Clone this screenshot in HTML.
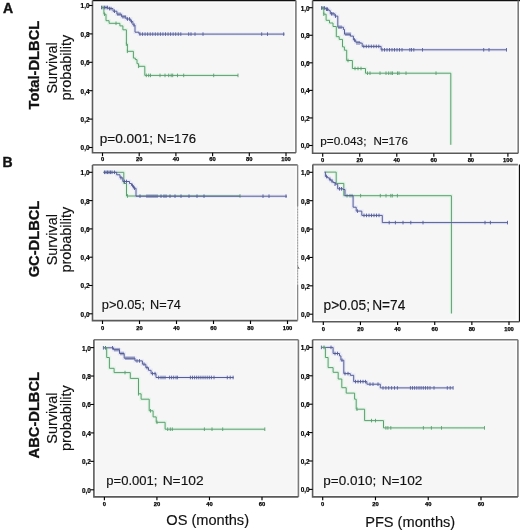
<!DOCTYPE html>
<html><head><meta charset="utf-8">
<style>
html,body{margin:0;padding:0;background:#fff;}
body{width:520px;height:532px;overflow:hidden;}
svg{display:block;filter:blur(0.4px);}
text{font-family:"Liberation Sans",sans-serif;fill:#111;}
.t{font-size:6.4px;font-weight:bold;text-anchor:end;fill:#000;stroke:#000;stroke-width:0.2px;}
.tx{font-size:5.8px;font-weight:bold;text-anchor:middle;fill:#000;stroke:#000;stroke-width:0.25px;}
.L{font-size:14px;font-weight:bold;stroke:#111;stroke-width:0.4px;}
.rb{font-size:14.7px;font-weight:bold;text-anchor:middle;stroke:#111;stroke-width:0.3px;}
.rr{font-size:14.4px;text-anchor:middle;stroke:#111;stroke-width:0.15px;}
.pv{font-size:13px;stroke:#111;stroke-width:0.15px;}
.ax{font-size:14.6px;stroke:#111;stroke-width:0.15px;}
</style></head>
<body>
<svg width="520" height="532" viewBox="0 0 520 532">
<rect width="520" height="532" fill="#fff"/>
<rect x="92.5" y="0.55" width="203.4" height="152.25" fill="#fdfdfd"/>
<rect x="94.7" y="2.75" width="199" height="147.85" fill="#f6f6f6"/>
<path d="M92.5 0.55H295.9" fill="none" stroke="#111" stroke-width="1.2"/>
<path d="M295.9 0.55V152.8" fill="none" stroke="#7a7a7a" stroke-width="1.6"/>
<path d="M92.5 0.55V152.8H295.9" fill="none" stroke="#5a5a5a" stroke-width="1.6"/>
<path d="M88.9 147.5H92.5" stroke="#000" stroke-width="1.1"/>
<text x="89.5" y="150.4" class="t">0,0</text>
<path d="M88.9 119.1H92.5" stroke="#000" stroke-width="1.1"/>
<text x="89.5" y="122" class="t">0,2</text>
<path d="M88.9 90.7H92.5" stroke="#000" stroke-width="1.1"/>
<text x="89.5" y="93.6" class="t">0,4</text>
<path d="M88.9 62.3H92.5" stroke="#000" stroke-width="1.1"/>
<text x="89.5" y="65.2" class="t">0,6</text>
<path d="M88.9 33.9H92.5" stroke="#000" stroke-width="1.1"/>
<text x="89.5" y="36.8" class="t">0,8</text>
<path d="M88.9 5.5H92.5" stroke="#000" stroke-width="1.1"/>
<text x="89.5" y="8.4" class="t">1,0</text>
<path d="M102.5 152.8V156.2" stroke="#000" stroke-width="1.15"/>
<text x="102.5" y="161.2" class="tx">0</text>
<path d="M139.2 152.8V156.2" stroke="#000" stroke-width="1.15"/>
<text x="139.2" y="161.2" class="tx">20</text>
<path d="M175.9 152.8V156.2" stroke="#000" stroke-width="1.15"/>
<text x="175.9" y="161.2" class="tx">40</text>
<path d="M212.6 152.8V156.2" stroke="#000" stroke-width="1.15"/>
<text x="212.6" y="161.2" class="tx">60</text>
<path d="M249.3 152.8V156.2" stroke="#000" stroke-width="1.15"/>
<text x="249.3" y="161.2" class="tx">80</text>
<path d="M286 152.8V156.2" stroke="#000" stroke-width="1.15"/>
<text x="286" y="161.2" class="tx">100</text>
<rect x="312.6" y="0.55" width="205.6" height="152.75" fill="#fdfdfd"/>
<rect x="314.8" y="2.75" width="201.2" height="148.35" fill="#f6f6f6"/>
<path d="M312.6 0.55H520" fill="none" stroke="#111" stroke-width="1.2"/>
<path d="M518.2 0.55V153.3" fill="none" stroke="#7a7a7a" stroke-width="1.6"/>
<path d="M312.6 0.55V153.3H518.2" fill="none" stroke="#5a5a5a" stroke-width="1.6"/>
<path d="M309 145.5H312.6" stroke="#000" stroke-width="1.1"/>
<text x="309.6" y="148.4" class="t">0,0</text>
<path d="M309 117.94H312.6" stroke="#000" stroke-width="1.1"/>
<text x="309.6" y="120.84" class="t">0,2</text>
<path d="M309 90.38H312.6" stroke="#000" stroke-width="1.1"/>
<text x="309.6" y="93.28" class="t">0,4</text>
<path d="M309 62.82H312.6" stroke="#000" stroke-width="1.1"/>
<text x="309.6" y="65.72" class="t">0,6</text>
<path d="M309 35.26H312.6" stroke="#000" stroke-width="1.1"/>
<text x="309.6" y="38.16" class="t">0,8</text>
<path d="M309 7.7H312.6" stroke="#000" stroke-width="1.1"/>
<text x="309.6" y="10.6" class="t">1,0</text>
<path d="M322.7 153.3V156.7" stroke="#000" stroke-width="1.15"/>
<text x="322.7" y="161.5" class="tx">0</text>
<path d="M359.74 153.3V156.7" stroke="#000" stroke-width="1.15"/>
<text x="359.74" y="161.5" class="tx">20</text>
<path d="M396.78 153.3V156.7" stroke="#000" stroke-width="1.15"/>
<text x="396.78" y="161.5" class="tx">40</text>
<path d="M433.82 153.3V156.7" stroke="#000" stroke-width="1.15"/>
<text x="433.82" y="161.5" class="tx">60</text>
<path d="M470.86 153.3V156.7" stroke="#000" stroke-width="1.15"/>
<text x="470.86" y="161.5" class="tx">80</text>
<path d="M507.9 153.3V156.7" stroke="#000" stroke-width="1.15"/>
<text x="507.9" y="161.5" class="tx">100</text>
<rect x="92.5" y="164.9" width="205.1" height="155.7" fill="#fdfdfd"/>
<rect x="94.7" y="167.1" width="200.7" height="151.3" fill="#f6f6f6"/>
<path d="M92.5 164.9H297.6" fill="none" stroke="#7a7a7a" stroke-width="1.6"/>
<path d="M297.6 164.9V320.6" fill="none" stroke="#c4c4c4" stroke-width="1.2"/>
<path d="M92.5 164.9V320.6H297.6" fill="none" stroke="#5a5a5a" stroke-width="1.6"/>
<path d="M88.9 313.8H92.5" stroke="#000" stroke-width="1.1"/>
<text x="89.5" y="316.7" class="t">0,0</text>
<path d="M88.9 285.5H92.5" stroke="#000" stroke-width="1.1"/>
<text x="89.5" y="288.4" class="t">0,2</text>
<path d="M88.9 257.2H92.5" stroke="#000" stroke-width="1.1"/>
<text x="89.5" y="260.1" class="t">0,4</text>
<path d="M88.9 228.9H92.5" stroke="#000" stroke-width="1.1"/>
<text x="89.5" y="231.8" class="t">0,6</text>
<path d="M88.9 200.6H92.5" stroke="#000" stroke-width="1.1"/>
<text x="89.5" y="203.5" class="t">0,8</text>
<path d="M88.9 172.3H92.5" stroke="#000" stroke-width="1.1"/>
<text x="89.5" y="175.2" class="t">1,0</text>
<path d="M102.5 320.6V324" stroke="#000" stroke-width="1.15"/>
<text x="102.5" y="329.8" class="tx">0</text>
<path d="M139.5 320.6V324" stroke="#000" stroke-width="1.15"/>
<text x="139.5" y="329.8" class="tx">20</text>
<path d="M176.5 320.6V324" stroke="#000" stroke-width="1.15"/>
<text x="176.5" y="329.8" class="tx">40</text>
<path d="M213.5 320.6V324" stroke="#000" stroke-width="1.15"/>
<text x="213.5" y="329.8" class="tx">60</text>
<path d="M250.5 320.6V324" stroke="#000" stroke-width="1.15"/>
<text x="250.5" y="329.8" class="tx">80</text>
<path d="M287.5 320.6V324" stroke="#000" stroke-width="1.15"/>
<text x="287.5" y="329.8" class="tx">100</text>
<rect x="312.8" y="164.6" width="205.1" height="157.1" fill="#fdfdfd"/>
<rect x="315" y="166.8" width="200.7" height="152.7" fill="#f6f6f6"/>
<path d="M312.8 164.6H517.9" fill="none" stroke="#7a7a7a" stroke-width="1.6"/>
<path d="M519.45 164.6V321.7" fill="none" stroke="#111" stroke-width="1.2"/>
<path d="M312.8 164.6V321.7H519.45" fill="none" stroke="#5a5a5a" stroke-width="1.6"/>
<path d="M309.2 314.2H312.8" stroke="#000" stroke-width="1.1"/>
<text x="309.8" y="317.1" class="t">0,0</text>
<path d="M309.2 285.82H312.8" stroke="#000" stroke-width="1.1"/>
<text x="309.8" y="288.72" class="t">0,2</text>
<path d="M309.2 257.44H312.8" stroke="#000" stroke-width="1.1"/>
<text x="309.8" y="260.34" class="t">0,4</text>
<path d="M309.2 229.06H312.8" stroke="#000" stroke-width="1.1"/>
<text x="309.8" y="231.96" class="t">0,6</text>
<path d="M309.2 200.68H312.8" stroke="#000" stroke-width="1.1"/>
<text x="309.8" y="203.58" class="t">0,8</text>
<path d="M309.2 172.3H312.8" stroke="#000" stroke-width="1.1"/>
<text x="309.8" y="175.2" class="t">1,0</text>
<path d="M323.3 321.7V325.1" stroke="#000" stroke-width="1.15"/>
<text x="323.3" y="331.1" class="tx">0</text>
<path d="M360.44 321.7V325.1" stroke="#000" stroke-width="1.15"/>
<text x="360.44" y="331.1" class="tx">20</text>
<path d="M397.58 321.7V325.1" stroke="#000" stroke-width="1.15"/>
<text x="397.58" y="331.1" class="tx">40</text>
<path d="M434.72 321.7V325.1" stroke="#000" stroke-width="1.15"/>
<text x="434.72" y="331.1" class="tx">60</text>
<path d="M471.86 321.7V325.1" stroke="#000" stroke-width="1.15"/>
<text x="471.86" y="331.1" class="tx">80</text>
<path d="M509 321.7V325.1" stroke="#000" stroke-width="1.15"/>
<text x="509" y="331.1" class="tx">100</text>
<rect x="93.9" y="339.8" width="204.5" height="157.1" fill="#fdfdfd"/>
<rect x="96.1" y="342" width="200.1" height="152.7" fill="#f6f6f6"/>
<path d="M93.9 339.8H298.4" fill="none" stroke="#7a7a7a" stroke-width="1.6"/>
<path d="M298.4 339.8V496.9" fill="none" stroke="#7a7a7a" stroke-width="1.6"/>
<path d="M93.9 339.8V496.9H298.4" fill="none" stroke="#5a5a5a" stroke-width="1.6"/>
<path d="M90.3 489.8H93.9" stroke="#000" stroke-width="1.1"/>
<text x="90.9" y="492.7" class="t">0,0</text>
<path d="M90.3 461.36H93.9" stroke="#000" stroke-width="1.1"/>
<text x="90.9" y="464.26" class="t">0,2</text>
<path d="M90.3 432.92H93.9" stroke="#000" stroke-width="1.1"/>
<text x="90.9" y="435.82" class="t">0,4</text>
<path d="M90.3 404.48H93.9" stroke="#000" stroke-width="1.1"/>
<text x="90.9" y="407.38" class="t">0,6</text>
<path d="M90.3 376.04H93.9" stroke="#000" stroke-width="1.1"/>
<text x="90.9" y="378.94" class="t">0,8</text>
<path d="M90.3 347.6H93.9" stroke="#000" stroke-width="1.1"/>
<text x="90.9" y="350.5" class="t">1,0</text>
<path d="M104.4 496.9V500.3" stroke="#000" stroke-width="1.15"/>
<text x="104.4" y="506.3" class="tx">0</text>
<path d="M156.93 496.9V500.3" stroke="#000" stroke-width="1.15"/>
<text x="156.93" y="506.3" class="tx">20</text>
<path d="M209.47 496.9V500.3" stroke="#000" stroke-width="1.15"/>
<text x="209.47" y="506.3" class="tx">40</text>
<path d="M262 496.9V500.3" stroke="#000" stroke-width="1.15"/>
<text x="262" y="506.3" class="tx">60</text>
<rect x="312.6" y="339.7" width="205.3" height="157.2" fill="#fdfdfd"/>
<rect x="314.8" y="341.9" width="200.9" height="152.8" fill="#f6f6f6"/>
<path d="M312.6 339.7H517.9" fill="none" stroke="#7a7a7a" stroke-width="1.6"/>
<path d="M517.9 339.7V496.9" fill="none" stroke="#7a7a7a" stroke-width="1.6"/>
<path d="M312.6 339.7V496.9H517.9" fill="none" stroke="#5a5a5a" stroke-width="1.6"/>
<path d="M309 489.4H312.6" stroke="#000" stroke-width="1.1"/>
<text x="309.6" y="492.3" class="t">0,0</text>
<path d="M309 461H312.6" stroke="#000" stroke-width="1.1"/>
<text x="309.6" y="463.9" class="t">0,2</text>
<path d="M309 432.6H312.6" stroke="#000" stroke-width="1.1"/>
<text x="309.6" y="435.5" class="t">0,4</text>
<path d="M309 404.2H312.6" stroke="#000" stroke-width="1.1"/>
<text x="309.6" y="407.1" class="t">0,6</text>
<path d="M309 375.8H312.6" stroke="#000" stroke-width="1.1"/>
<text x="309.6" y="378.7" class="t">0,8</text>
<path d="M309 347.4H312.6" stroke="#000" stroke-width="1.1"/>
<text x="309.6" y="350.3" class="t">1,0</text>
<path d="M322.7 496.9V500.3" stroke="#000" stroke-width="1.15"/>
<text x="322.7" y="506" class="tx">0</text>
<path d="M375.47 496.9V500.3" stroke="#000" stroke-width="1.15"/>
<text x="375.47" y="506" class="tx">20</text>
<path d="M428.23 496.9V500.3" stroke="#000" stroke-width="1.15"/>
<text x="428.23" y="506" class="tx">40</text>
<path d="M481 496.9V500.3" stroke="#000" stroke-width="1.15"/>
<text x="481" y="506" class="tx">60</text>
<path d="M297.6 164.9V206" stroke="#8a8a8a" stroke-width="1.3"/>
<path d="M297.6 206V285" stroke="#9a9a9a" stroke-width="1" stroke-dasharray="1.2 1.6"/>
<path d="M297.6 285V320.6" stroke="#8a8a8a" stroke-width="1.2"/>
<path d="M297.9 266.5l1.2 2.5" stroke="#555" stroke-width="0.9"/>
<path d="M101.5 7.5H108.2V8.6H113V11.2H116.9V14.2H121.6V16.8H126V19H130.7V21.6H132.9V25H135V32.2H139V34.1H284.5" fill="none" stroke="#e6e8f5" stroke-width="3.4"/>
<path d="M101.5 7.5H103.9V14.2H106V20.7H109.1V23.3H119.9V25.9H122.9V29.8H126.4V44.1H127.4V51.3H133.4V58.1H135.3V59.6H137V63.7H138.6V66.3H144.8V75.4H238" fill="none" stroke="#e2f5e7" stroke-width="3.4"/>
<path d="M321.5 8H325.7V9.2H328.8V10.7H330.3V13.8H334.9V16.1H337.8V27.2H343.4V29.5H344.5V34.2H350.3V36.1H353.4V39.9H355.7V42.2H360V43.1H362.2V46.4H381.1V49.8H506.5" fill="none" stroke="#e6e8f5" stroke-width="3.4"/>
<path d="M321.5 8H323.8V14.2H326.1V20.3H329.5V23H333V26.5H336.3V36.7H339.2V39.4H342.5V46.9H344.4V50.2H346.7V60.5H352.4V68.5H365.5V73.2H450.8V144.8" fill="none" stroke="#e2f5e7" stroke-width="3.4"/>
<path d="M103.5 172.3H123.8V183.5H126.5V196H240" fill="none" stroke="#e2f5e7" stroke-width="3.4"/>
<path d="M103.5 172.3H116.7V174.8H120V177.8H122.8V181.5H129.5V183.5H131.5V185.5H133.5V188.2H136V196.2H287" fill="none" stroke="#e6e8f5" stroke-width="3.4"/>
<path d="M324.6 172.1H336.2V183.4H343.8V195.7H451.4V313.5" fill="none" stroke="#e2f5e7" stroke-width="3.4"/>
<path d="M324.6 172.1H325.4V176.5H327.5V177.8H329.2V179.4H331V181H333V182.6H335.4V184.2H337.7V188.8H343V189.5H345V195.7H353.1V207.2H356.2V211.1H361.8V215.4H382.3V222.6H507.5" fill="none" stroke="#e6e8f5" stroke-width="3.4"/>
<path d="M103.4 347.8H113.5V349.7H119.5V353.5H124.2V358.2H135V360.9H142.4V364.2H145.8V367.6H148.5V370.3H151.1V373.6H156V377.5H233.6" fill="none" stroke="#e6e8f5" stroke-width="3.4"/>
<path d="M103.4 347.8H106.7V357.5H109.4V368.3H114.1V372.6H130.3V378.4H138.5V393.8H141.1V399.2H149.2V410.8H153.1V416.9H156.2V422.3H165.1V429.2H264.8" fill="none" stroke="#e2f5e7" stroke-width="3.4"/>
<path d="M321.4 347.4H333.1V353.5H339.5V355.9H340.9V360.2H343.8V373.6H350.3V375.3H353.7V381.6H366.9V384.2H380.3V387.9H453.1" fill="none" stroke="#e6e8f5" stroke-width="3.4"/>
<path d="M321.4 347.4H325.4V357.5H328.1V367.6H333.1V372.3H338.2V379H341.8V387.7H346.2V393.1H354.6V399.2H356.2V409.2H364.6V420.6H383.5V427.9H484.5" fill="none" stroke="#e2f5e7" stroke-width="3.4"/>
<path d="M101.5 7.5H108.2V8.6H113V11.2H116.9V14.2H121.6V16.8H126V19H130.7V21.6H132.9V25H135V32.2H139V34.1H284.5" fill="none" stroke="#565d98" stroke-width="1.0"/>
<path d="M101.5 5.7v3.6M103 5.7v3.6M104.5 5.7v3.6M106 5.7v3.6M107.5 5.7v3.6M109.5 6.8v3.6M111 6.8v3.6M114.5 9.4v3.6M118 12.4v3.6M120 12.4v3.6M123 15v3.6M125 15v3.6M127.5 17.2v3.6M129.5 17.2v3.6M131.5 19.8v3.6M134 23.2v3.6M140 32.3v3.6M142.55 32.3v3.6M145.1 32.3v3.6M147.65 32.3v3.6M150.2 32.3v3.6M152.75 32.3v3.6M155.3 32.3v3.6M157.85 32.3v3.6M160.4 32.3v3.6M162.95 32.3v3.6M165.5 32.3v3.6M168.05 32.3v3.6M170.6 32.3v3.6M173.15 32.3v3.6M175.7 32.3v3.6M178.25 32.3v3.6M180.8 32.3v3.6M188.7 32.3v3.6M191 32.3v3.6M195 32.3v3.6M203 32.3v3.6M261.7 32.3v3.6M267.5 32.3v3.6M283.7 32.3v3.6" fill="none" stroke="#565d98" stroke-width="0.9"/>
<path d="M101.5 7.5H103.9V14.2H106V20.7H109.1V23.3H119.9V25.9H122.9V29.8H126.4V44.1H127.4V51.3H133.4V58.1H135.3V59.6H137V63.7H138.6V66.3H144.8V75.4H238" fill="none" stroke="#5c9e70" stroke-width="1.0"/>
<path d="M104.5 12.4v3.6M116 21.5v3.6M126.4 42.3v3.6M127.4 49.5v3.6M138.6 64.5v3.6M146.3 73.6v3.6M148.7 73.6v3.6M150.5 73.6v3.6M160 73.6v3.6M165 73.6v3.6M168.7 73.6v3.6M171.2 73.6v3.6M172.7 73.6v3.6M177.5 73.6v3.6M183.7 73.6v3.6M213.7 73.6v3.6M238 73.6v3.6" fill="none" stroke="#5c9e70" stroke-width="0.9"/>
<path d="M321.5 8H325.7V9.2H328.8V10.7H330.3V13.8H334.9V16.1H337.8V27.2H343.4V29.5H344.5V34.2H350.3V36.1H353.4V39.9H355.7V42.2H360V43.1H362.2V46.4H381.1V49.8H506.5" fill="none" stroke="#565d98" stroke-width="1.0"/>
<path d="M321.5 6.2v3.6M323 6.2v3.6M324.5 6.2v3.6M326.5 7.4v3.6M327.5 7.4v3.6M331.5 12v3.6M333 12v3.6M335.5 14.3v3.6M339 25.4v3.6M341 25.4v3.6M346 32.4v3.6M348 32.4v3.6M350 32.4v3.6M354.5 38.2v3.6M357 41.3v3.6M359 41.3v3.6M363.8 44.6v3.6M366.3 44.6v3.6M368.8 44.6v3.6M371.3 44.6v3.6M373.8 44.6v3.6M376.3 44.6v3.6M378.8 44.6v3.6M382 48v3.6M384.5 48v3.6M387 48v3.6M389.5 48v3.6M392 48v3.6M394.5 48v3.6M397 48v3.6M399.5 48v3.6M402 48v3.6M409.8 48v3.6M411.5 48v3.6M413.8 48v3.6M422.5 48v3.6M483.7 48v3.6M489 48v3.6M506.5 48v3.6" fill="none" stroke="#565d98" stroke-width="0.9"/>
<path d="M321.5 8H323.8V14.2H326.1V20.3H329.5V23H333V26.5H336.3V36.7H339.2V39.4H342.5V46.9H344.4V50.2H346.7V60.5H352.4V68.5H365.5V73.2H450.8V144.8" fill="none" stroke="#5c9e70" stroke-width="1.0"/>
<path d="M323.8 12.4v3.6M348 58.7v3.6M355 66.7v3.6M358 66.7v3.6M361 66.7v3.6M367.5 71.4v3.6M370 71.4v3.6M380 71.4v3.6M386 71.4v3.6M388.7 71.4v3.6M391 71.4v3.6M392.5 71.4v3.6M397.5 71.4v3.6M399 71.4v3.6M406 71.4v3.6M436 71.4v3.6" fill="none" stroke="#5c9e70" stroke-width="0.9"/>
<path d="M103.5 172.3H123.8V183.5H126.5V196H240" fill="none" stroke="#5c9e70" stroke-width="1.0"/>
<path d="M127.5 194.2v3.6M240 194.2v3.6" fill="none" stroke="#5c9e70" stroke-width="0.9"/>
<path d="M103.5 172.3H116.7V174.8H120V177.8H122.8V181.5H129.5V183.5H131.5V185.5H133.5V188.2H136V196.2H287" fill="none" stroke="#565d98" stroke-width="1.0"/>
<path d="M104.5 170.5v3.6M106 170.5v3.6M107.5 170.5v3.6M109 170.5v3.6M110.5 170.5v3.6M112 170.5v3.6M114.5 170.5v3.6M121 176v3.6M124.5 179.7v3.6M126.5 179.7v3.6M132.5 183.7v3.6M134.5 186.4v3.6M140 194.4v3.6M147 194.4v3.6M149 194.4v3.6M151 194.4v3.6M153 194.4v3.6M155 194.4v3.6M157 194.4v3.6M161 194.4v3.6M164 194.4v3.6M166 194.4v3.6M170 194.4v3.6M175 194.4v3.6M181 194.4v3.6M189 194.4v3.6M197 194.4v3.6M204 194.4v3.6M263 194.4v3.6M269 194.4v3.6M286 194.4v3.6" fill="none" stroke="#565d98" stroke-width="0.9"/>
<path d="M324.6 172.1H336.2V183.4H343.8V195.7H451.4V313.5" fill="none" stroke="#5c9e70" stroke-width="1.0"/>
<path d="M347 193.9v3.6M350 193.9v3.6M352 193.9v3.6M360.6 193.9v3.6M380.3 193.9v3.6M386 193.9v3.6M390.8 193.9v3.6M392.3 193.9v3.6M397.4 193.9v3.6" fill="none" stroke="#5c9e70" stroke-width="0.9"/>
<path d="M324.6 172.1H325.4V176.5H327.5V177.8H329.2V179.4H331V181H333V182.6H335.4V184.2H337.7V188.8H343V189.5H345V195.7H353.1V207.2H356.2V211.1H361.8V215.4H382.3V222.6H507.5" fill="none" stroke="#565d98" stroke-width="1.0"/>
<path d="M326.5 174.7v3.6M330 177.6v3.6M332 179.2v3.6M335 182.4v3.6M339.5 187v3.6M341.5 187v3.6M357.5 209.3v3.6M364 213.6v3.6M366.5 213.6v3.6M369 213.6v3.6M371.5 213.6v3.6M374 213.6v3.6M376.5 213.6v3.6M379 213.6v3.6M389.2 220.8v3.6M395.4 220.8v3.6M403 220.8v3.6M410.8 220.8v3.6M423 220.8v3.6M485 220.8v3.6M490.4 220.8v3.6M507.5 220.8v3.6" fill="none" stroke="#565d98" stroke-width="0.9"/>
<path d="M103.4 347.8H113.5V349.7H119.5V353.5H124.2V358.2H135V360.9H142.4V364.2H145.8V367.6H148.5V370.3H151.1V373.6H156V377.5H233.6" fill="none" stroke="#565d98" stroke-width="1.0"/>
<path d="M103.4 346v3.6M105.5 346v3.6M112.5 346v3.6M115 347.9v3.6M117 347.9v3.6M119 347.9v3.6M121 351.7v3.6M123 351.7v3.6M126 356.4v3.6M128 356.4v3.6M130 356.4v3.6M132 356.4v3.6M134 356.4v3.6M137 359.1v3.6M139.5 359.1v3.6M144 362.4v3.6M147 365.8v3.6M152.5 371.8v3.6M155 371.8v3.6M158.7 375.7v3.6M161 375.7v3.6M163 375.7v3.6M165 375.7v3.6M169.6 375.7v3.6M171.6 375.7v3.6M173.7 375.7v3.6M176 375.7v3.6M177.4 375.7v3.6M190.4 375.7v3.6M192.5 375.7v3.6M194.6 375.7v3.6M196.7 375.7v3.6M198.8 375.7v3.6M200.9 375.7v3.6M203 375.7v3.6M205.1 375.7v3.6M207.2 375.7v3.6M209.3 375.7v3.6M211.4 375.7v3.6M214 375.7v3.6M227.3 375.7v3.6M230.2 375.7v3.6M233.1 375.7v3.6" fill="none" stroke="#565d98" stroke-width="0.9"/>
<path d="M103.4 347.8H106.7V357.5H109.4V368.3H114.1V372.6H130.3V378.4H138.5V393.8H141.1V399.2H149.2V410.8H153.1V416.9H156.2V422.3H165.1V429.2H264.8" fill="none" stroke="#5c9e70" stroke-width="1.0"/>
<path d="M125 370.8v3.6M138.5 392v3.6M150.5 409v3.6M157 420.5v3.6M167.7 427.4v3.6M170.3 427.4v3.6M172.3 427.4v3.6M204.4 427.4v3.6M212 427.4v3.6M222.7 427.4v3.6M264.8 427.4v3.6" fill="none" stroke="#5c9e70" stroke-width="0.9"/>
<path d="M321.4 347.4H333.1V353.5H339.5V355.9H340.9V360.2H343.8V373.6H350.3V375.3H353.7V381.6H366.9V384.2H380.3V387.9H453.1" fill="none" stroke="#565d98" stroke-width="1.0"/>
<path d="M321.4 345.6v3.6M324 345.6v3.6M331 345.6v3.6M335 351.7v3.6M337.5 351.7v3.6M342 358.4v3.6M345 371.8v3.6M348 371.8v3.6M355.5 379.8v3.6M358 379.8v3.6M360.5 379.8v3.6M363 379.8v3.6M365.5 379.8v3.6M370 382.4v3.6M373 382.4v3.6M378 382.4v3.6M383 386.1v3.6M385.9 386.1v3.6M388.7 386.1v3.6M391.6 386.1v3.6M394.5 386.1v3.6M397.4 386.1v3.6M410.4 386.1v3.6M412.5 386.1v3.6M414.6 386.1v3.6M416.8 386.1v3.6M419 386.1v3.6M421.1 386.1v3.6M423.3 386.1v3.6M425.5 386.1v3.6M427.7 386.1v3.6M430 386.1v3.6M434 386.1v3.6M447.3 386.1v3.6M450.2 386.1v3.6M453.1 386.1v3.6" fill="none" stroke="#565d98" stroke-width="0.9"/>
<path d="M321.4 347.4H325.4V357.5H328.1V367.6H333.1V372.3H338.2V379H341.8V387.7H346.2V393.1H354.6V399.2H356.2V409.2H364.6V420.6H383.5V427.9H484.5" fill="none" stroke="#5c9e70" stroke-width="1.0"/>
<path d="M357 407.4v3.6M371.5 418.8v3.6M375.5 418.8v3.6M385.9 426.1v3.6M387.9 426.1v3.6M390.8 426.1v3.6M423.4 426.1v3.6M431.4 426.1v3.6M441.5 426.1v3.6M484.5 426.1v3.6" fill="none" stroke="#5c9e70" stroke-width="0.9"/>
<text x="2.9" y="12.6" class="L">A</text>
<text x="2.5" y="166.8" class="L">B</text>
<text class="rb" transform="translate(39.4 65.1) rotate(-90)">Total-DLBCL</text>
<text class="rr" transform="translate(56.6 68) rotate(-90)">Survival</text>
<text class="rr" transform="translate(70.7 67.7) rotate(-90)">probability</text>
<text class="rb" transform="translate(39.4 239) rotate(-90)">GC-DLBCL</text>
<text class="rr" transform="translate(56.6 239.7) rotate(-90)">Survival</text>
<text class="rr" transform="translate(70.7 239.7) rotate(-90)">probability</text>
<text class="rb" transform="translate(39.4 415.2) rotate(-90)">ABC-DLBCL</text>
<text class="rr" transform="translate(56.6 418.1) rotate(-90)">Survival</text>
<text class="rr" transform="translate(70.7 418.2) rotate(-90)">probability</text>
<text x="99.72" y="142.6" class="pv" style="font-size:12.06px" textLength="53.4" lengthAdjust="spacingAndGlyphs">p=0.001;</text>
<text x="157.03" y="142.6" class="pv" style="font-size:12.06px" textLength="38.95" lengthAdjust="spacingAndGlyphs">N=176</text>
<text x="320.34" y="144.8" class="pv" style="font-size:11.48px" textLength="46.11" lengthAdjust="spacingAndGlyphs">p=0.043;</text>
<text x="373.45" y="144.8" class="pv" style="font-size:11.48px" textLength="34.56" lengthAdjust="spacingAndGlyphs">N=176</text>
<text x="101.87" y="308.5" class="pv" style="font-size:13.23px" textLength="43.18" lengthAdjust="spacingAndGlyphs">p&gt;0.05;</text>
<text x="150.06" y="308.5" class="pv" style="font-size:13.23px" textLength="30.71" lengthAdjust="spacingAndGlyphs">N=74</text>
<text x="323.61" y="310.3" class="pv" style="font-size:14.1px" textLength="46.43" lengthAdjust="spacingAndGlyphs">p&gt;0.05;</text>
<text x="372.18" y="310.3" class="pv" style="font-size:14.1px" textLength="33.12" lengthAdjust="spacingAndGlyphs">N=74</text>
<text x="106.26" y="484.6" class="pv" style="font-size:13.23px" textLength="51.22" lengthAdjust="spacingAndGlyphs">p=0.001;</text>
<text x="162.67" y="484.6" class="pv" style="font-size:13.23px" textLength="41.02" lengthAdjust="spacingAndGlyphs">N=102</text>
<text x="323.33" y="485.3" class="pv" style="font-size:13.66px" textLength="52.88" lengthAdjust="spacingAndGlyphs">p=0.010;</text>
<text x="381.68" y="485.3" class="pv" style="font-size:13.66px" textLength="40.71" lengthAdjust="spacingAndGlyphs">N=102</text>
<text x="166.3" y="525.2" class="ax">OS (months)</text>
<text x="365.2" y="526.5" class="ax">PFS (months)</text>
</svg>
</body></html>
